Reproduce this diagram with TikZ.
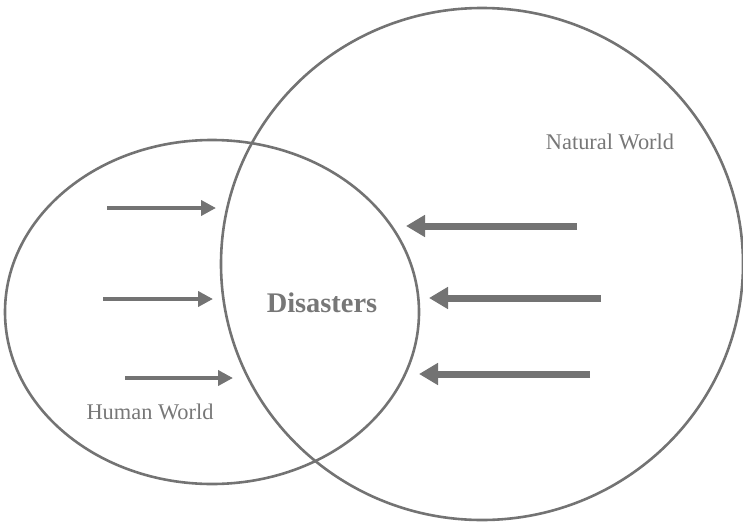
\documentclass[tikz,border=0pt]{standalone}
\usepackage{fontspec}
\setmainfont{Liberation Serif}
\usetikzlibrary{arrows.meta,shapes.geometric}
\definecolor{linegray}{HTML}{737373}
\definecolor{textgray}{HTML}{777777}
\begin{document}
\begin{tikzpicture}[x=1pt,y=-1pt,
  world/.style={draw=linegray,line width=2.6pt,ellipse,inner sep=0pt},
  lbl/.style={text=textgray,font=\fontsize{22.4}{26}\selectfont},
  thin/.style={linegray,line width=4pt,-{Triangle[length=15pt,width=15pt]}},
  thick/.style={linegray,line width=7pt,-{Triangle[length=19pt,width=21pt]}}]
  \useasboundingbox (0,0) rectangle (743,522);
  \node[world,minimum width=522pt,minimum height=512pt] (nature) at (482,264) {};
  \node[world,minimum width=414pt,minimum height=344pt] (human) at (212,312) {};
  \node[lbl] (nw) at (610,142) {Natural World};
  \node[lbl] (hw) at (150,412) {Human World};
  \node[text=textgray,font=\fontsize{28.4}{32}\selectfont\bfseries] (dis) at (322,303) {Disasters};
  % arrows from the human side
  \coordinate (h1) at (107,208); \coordinate (h1e) at (216,208);
  \coordinate (h2) at (103,299); \coordinate (h2e) at (213,299);
  \coordinate (h3) at (125,378); \coordinate (h3e) at (233,378);
  \foreach \a/\b in {h1/h1e,h2/h2e,h3/h3e}{\draw[thin] (\a) -- (\b);}
  % arrows from the natural side
  \coordinate (n1) at (577,226); \coordinate (n1e) at (406,226);
  \coordinate (n2) at (601,298); \coordinate (n2e) at (429,298);
  \coordinate (n3) at (590,374); \coordinate (n3e) at (419,374);
  \foreach \a/\b in {n1/n1e,n2/n2e,n3/n3e}{\draw[thick] (\a) -- (\b);}
\end{tikzpicture}
\end{document}
